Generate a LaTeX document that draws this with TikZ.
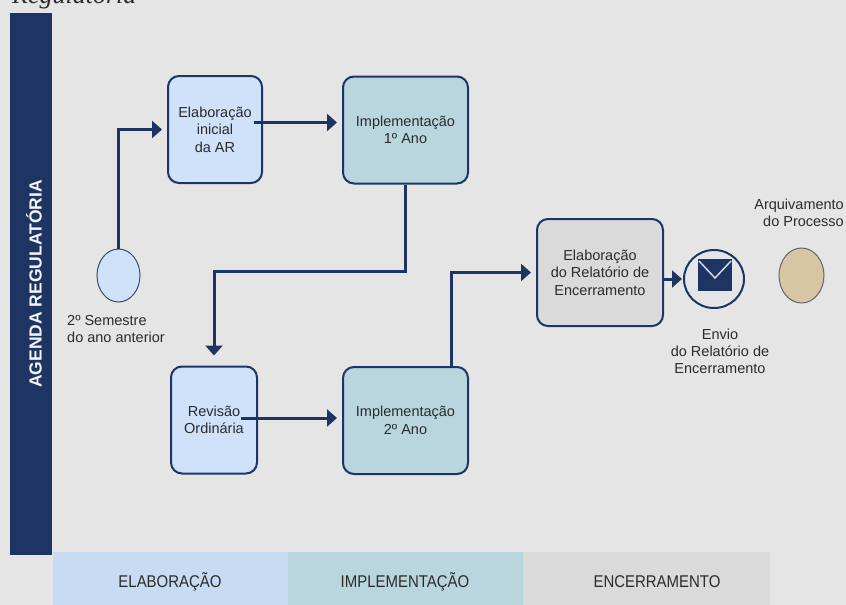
\documentclass[tikz,border=0pt]{standalone}
\usepackage{fontspec}
\setmainfont{Liberation Sans}
\newfontfamily\narrowfont[FakeStretch=0.88]{Liberation Sans}
\newfontfamily\seriffont{Liberation Serif}
\usetikzlibrary{arrows.meta,positioning,shapes.geometric}
\definecolor{navy}{HTML}{1E3563}
\definecolor{bgrey}{HTML}{E5E5E5}
\definecolor{lblue}{HTML}{CFE2FA}
\definecolor{lteal}{HTML}{B9D6DF}
\definecolor{lgrey}{HTML}{DADADA}
\definecolor{ltan}{HTML}{D6C6A3}
\definecolor{txt}{HTML}{2B2B2B}
\begin{document}
\begin{tikzpicture}[x=1pt,y=-1pt,
    box/.style={draw=navy,line width=2pt,rounded corners=11pt,align=center,text=txt,
        font=\fontsize{14.5}{17.5}\selectfont,minimum height=107pt,inner sep=2pt},
    event/.style={ellipse,inner sep=0pt},
    flow/.style={draw=navy,line width=3pt,-{Triangle[length=10pt,width=17pt]},shorten >=5pt},
    lbl/.style={text=txt,font=\fontsize{14.5}{17}\selectfont,inner sep=0pt},
    phase/.style={text=txt,font=\narrowfont\fontsize{17}{20}\selectfont}]
    \def\Wb{125}     %define wide box width
    \useasboundingbox[fill=bgrey] (0,0) rectangle (846,605);
    \node[anchor=base west,inner sep=0pt,text=txt,font=\seriffont\itshape\fontsize{26}{30}\selectfont] (title) at (12,3) {Regulatória};
    % lane bar and phases
    \fill[navy] (10,13) rectangle (52,555);
    \node[rotate=90,text=white!95!navy,font=\bfseries\fontsize{17.5}{20}\selectfont] (lane) at (34,284) {AGENDA REGULATÓRIA};
    \fill[lblue!97!black] (53,552) rectangle (288,605);
    \fill[lteal] (288,552) rectangle (523,605);
    \fill[lgrey] (523,552) rectangle (770,605);
    \node[phase] (ph1) at (170,582) {ELABORAÇÃO};
    \node[phase] (ph2) at (405,582) {IMPLEMENTAÇÃO};
    \node[phase] (ph3) at (657,582) {ENCERRAMENTO};
    % tasks
    \node[box,fill=lblue,minimum width=94pt] (elab) at (215,129.5) {Elaboração\\inicial\\da AR};
    \node[box,fill=lteal,minimum width=\Wb pt] (impl1) at (405.5,130) {Implementação\\1º Ano};
    \node[box,fill=lblue,minimum width=86pt] (revis) at (214,420) {Revisão\\Ordinária};
    \node[box,fill=lteal,minimum width=\Wb pt] (impl2) at (405.5,420.5) {Implementação\\2º Ano};
    \node[box,fill=lgrey,minimum width=126pt] (relat) at (600,272.5) {Elaboração\\do Relatório de\\Encerramento};
    % events
    \node[event,draw=navy!70!gray,line width=1pt,fill=lblue,minimum width=43pt,minimum height=53pt] (start) at (118.5,275.5) {};
    \node[event,draw=navy,line width=2pt,fill=bgrey!90!lblue,minimum width=60pt,minimum height=58pt] (envio) at (714,279) {};
    \fill[navy] (698,259) rectangle (732,291);
    \draw[white!80!navy,line width=1.5pt] (699,261) -- (715,278) -- (731,261);
    \node[event,draw=gray!80!black,line width=1pt,fill=ltan,minimum width=45pt,minimum height=55pt] (arq) at (801.5,275.5) {};
    \node[lbl,align=left,anchor=north west] (startlbl) at (67,315) {2º Semestre\\do ano anterior};
    \node[lbl,align=center,anchor=north] (enviolbl) at (720,329) {Envio\\do Relatório de\\Encerramento};
    \node[lbl,align=right,anchor=north east] (arqlbl) at (844,199) {Arquivamento\\do Processo};
    % connectors
    \coordinate (e1) at ([xshift=-9pt,yshift=7pt]elab.east);
    \coordinate (r1) at ([xshift=-17pt,yshift=2pt]revis.east);
    \coordinate (i2) at ([xshift=46pt]impl2.north);
    \draw[flow] (start.north) |- (elab.west);
    \draw[flow] (e1) -- (e1 -| impl1.west);
    \draw[flow,shorten >=10pt] (impl1.south) -- ++(0,87) -| (revis.north);
    \draw[flow] (r1) -- (r1 -| impl2.west);
    \draw[flow] (i2) |- (relat.west);
    \draw[flow,shorten >=1pt] (relat.east |- envio.west) -- (envio.west);
\end{tikzpicture}
\end{document}
